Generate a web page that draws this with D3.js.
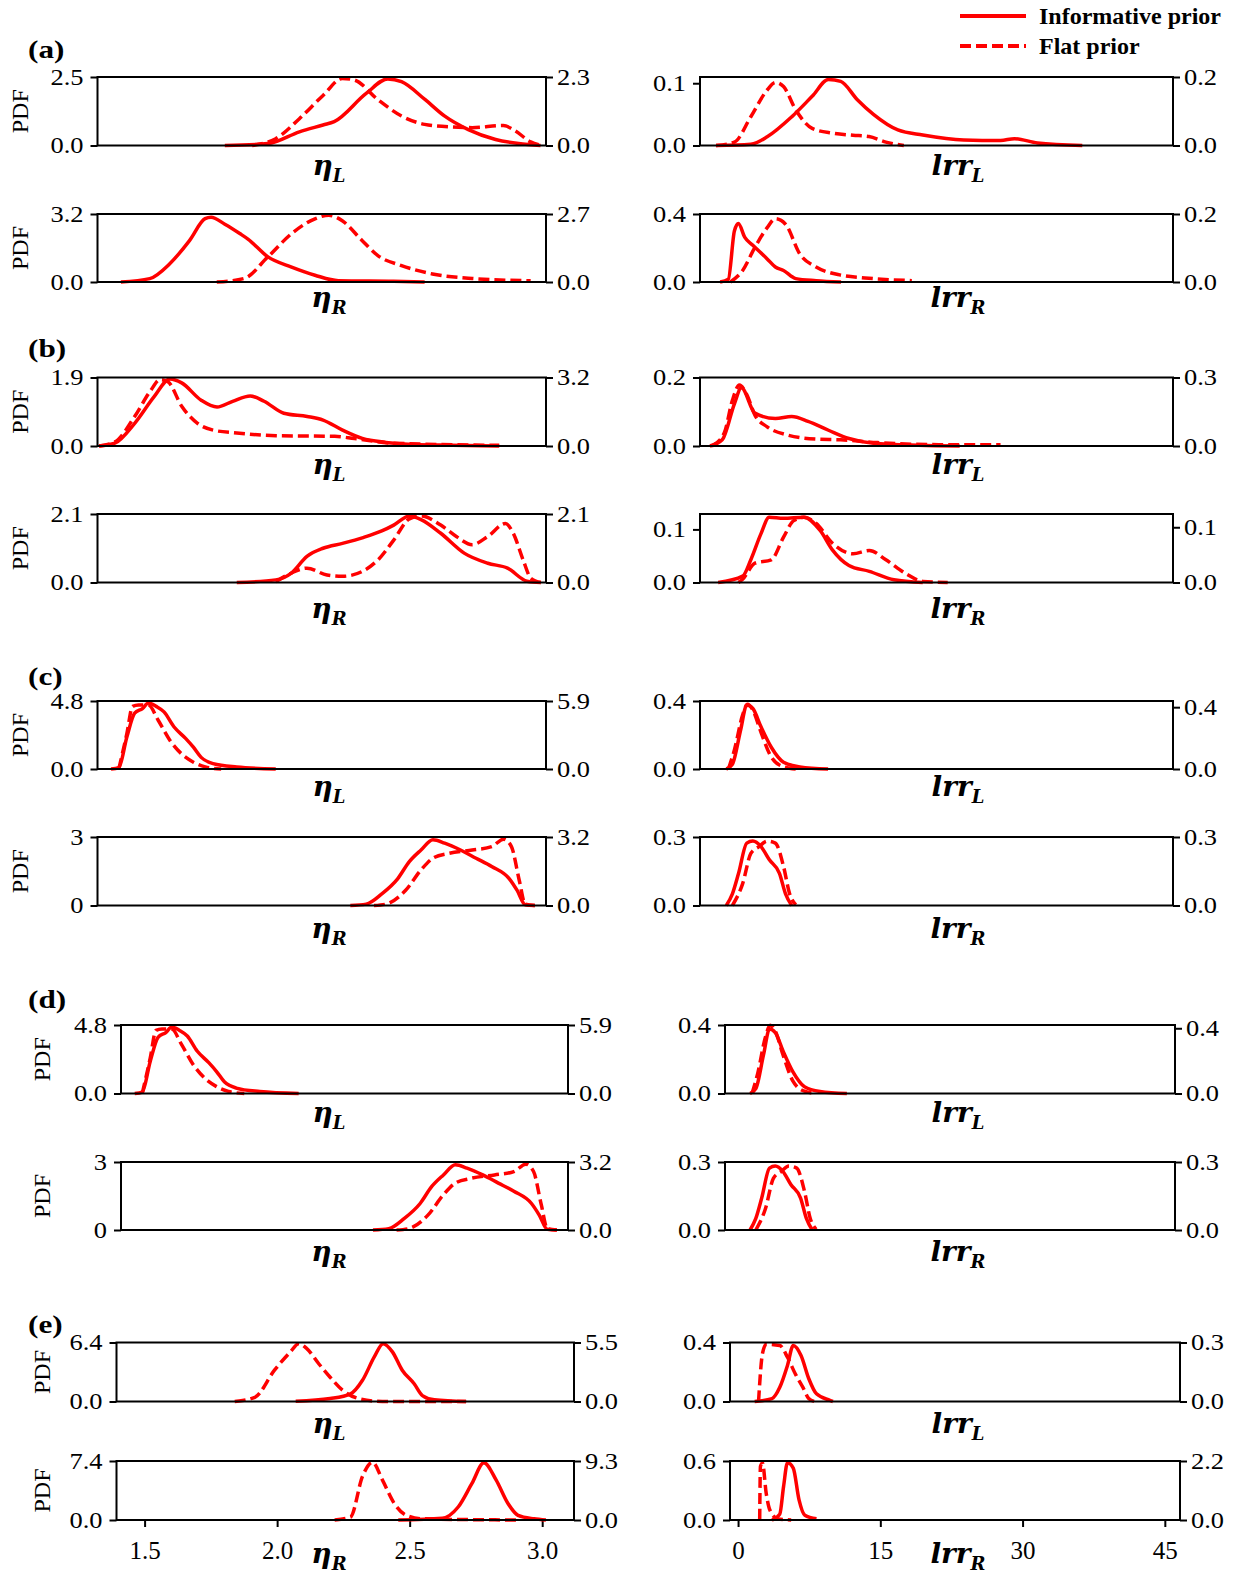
<!DOCTYPE html>
<html>
<head>
<meta charset="utf-8">
<script src="https://cdn.jsdelivr.net/npm/d3@7"></script>
<style>
  body { margin: 0; background: #fff; }
  text { font-family: "Liberation Serif", "Times New Roman", serif; fill: #000; }
  .tag { font-size: 26px; font-weight: bold; }
  .pdf { font-size: 24px; }
  .xlab { font-family: "DejaVu Serif", serif; font-size: 28px; font-weight: bold; font-style: italic; }
  .legend { font-size: 24px; font-weight: bold; }
</style>
</head>
<body>
<div id="chart"></div>
<script>
// ---- data: [value, PDF] pairs ----
// (a)
var aEtaLInf  = [[1.884,0],[2.050,0.07],[2.171,0.5],[2.262,0.75],[2.305,0.87],[2.428,1.9],[2.511,2.43],[2.564,2.33],[2.654,1.68],[2.729,1.08],[2.821,0.58],[2.926,0.22],[3.015,0.07],[3.099,0]];
var aEtaLFlat = [[1.989,0],[2.080,0.23],[2.171,0.9],[2.262,1.68],[2.336,2.25],[2.382,2.2],[2.473,1.54],[2.564,0.99],[2.653,0.71],[2.760,0.62],[2.836,0.6],[2.956,0.67],[3.0,0.5],[3.061,0.12],[3.103,0]];
var aEtaRInf  = [[1.484,0],[1.595,0.16],[1.672,0.86],[1.748,1.95],[1.808,2.98],[1.831,3.05],[1.884,2.72],[1.943,2.27],[1.973,2.02],[2.05,1.18],[2.141,0.7],[2.231,0.32],[2.321,0.06],[2.533,0.03],[2.653,0]];
var aEtaRFlat = [[1.853,0],[1.958,0.14],[2.05,1.0],[2.141,1.92],[2.231,2.51],[2.284,2.65],[2.336,2.43],[2.412,1.65],[2.473,1.05],[2.564,0.65],[2.683,0.32],[2.836,0.14],[3.061,0.05]];
var aLrrLInf  = [[0.76,0],[4.25,0.002],[5.89,0.014],[8.35,0.046],[10.4,0.079],[12.04,0.106],[13.27,0.103],[14.91,0.074],[16.55,0.05],[19.0,0.025],[21.5,0.017],[25.6,0.009],[29.3,0.008],[30.7,0.011],[33.0,0.004],[37.5,0]];
var aLrrLFlat = [[0.76,0],[2.6,0.01],[4.25,0.084],[5.89,0.162],[6.71,0.184],[7.53,0.172],[8.76,0.104],[10.4,0.05],[12.45,0.036],[14.5,0.03],[16.1,0.026],[17.8,0.01],[19.6,0]];
var aLrrRInf  = [[1.17,0],[1.99,0.016],[2.6,0.3],[3.0,0.344],[3.63,0.264],[4.45,0.216],[5.89,0.136],[6.71,0.088],[7.53,0.068],[8.76,0.02],[10.8,0.008],[13.3,0]];
var aLrrRFlat = [[2.2,0],[3.43,0.034],[4.66,0.102],[5.89,0.16],[6.71,0.186],[7.73,0.17],[9.17,0.082],[10.8,0.044],[13.3,0.02],[15.7,0.012],[20.4,0.004]];
// (b)
var bEtaLInf  = [[1.40,0],[1.461,0.08],[1.537,0.63],[1.612,1.37],[1.673,1.86],[1.718,1.75],[1.793,1.27],[1.854,1.08],[1.914,1.24],[1.982,1.39],[2.035,1.24],[2.111,0.91],[2.201,0.82],[2.262,0.72],[2.337,0.44],[2.413,0.21],[2.504,0.1],[2.609,0.04],[2.76,0.02],[2.94,0]];
var bEtaLFlat = [[1.40,0],[1.461,0.19],[1.537,1.38],[1.597,2.56],[1.635,3.1],[1.665,3.0],[1.718,1.86],[1.779,1.06],[1.839,0.74],[1.93,0.61],[2.081,0.48],[2.307,0.45],[2.383,0.35],[2.534,0.13],[2.94,0.03]];
var bEtaRInf  = [[1.93,0],[2.08,0.08],[2.14,0.29],[2.2,0.8],[2.262,1.05],[2.337,1.2],[2.413,1.37],[2.488,1.58],[2.534,1.76],[2.594,2.04],[2.639,1.93],[2.715,1.51],[2.805,0.9],[2.896,0.59],[2.972,0.44],[3.047,0.04],[3.1,0]];
var bEtaRFlat = [[2.08,0.02],[2.14,0.29],[2.2,0.44],[2.277,0.23],[2.337,0.19],[2.413,0.34],[2.473,0.69],[2.534,1.3],[2.594,1.95],[2.639,2.04],[2.715,1.76],[2.775,1.41],[2.836,1.16],[2.896,1.41],[2.964,1.81],[2.994,1.51],[3.032,0.69],[3.062,0.13],[3.1,0]];
var bLrrLInf  = [[0.15,0],[1.38,0.018],[2.61,0.124],[3.3,0.17],[4.66,0.096],[6.71,0.08],[8.35,0.086],[9.99,0.072],[12.04,0.046],[14.09,0.022],[16.55,0.008],[21.06,0.002],[25.2,0]];
var bLrrLFlat = [[0.35,0],[1.58,0.057],[2.4,0.2],[3.1,0.267],[3.84,0.225],[4.66,0.135],[5.89,0.084],[7.94,0.048],[10.8,0.03],[13.27,0.027],[16.96,0.015],[23.1,0.006],[29.3,0.006]];
var bLrrRInf  = [[0.97,0],[3.43,0.012],[4.25,0.043],[5.27,0.092],[6.09,0.123],[7.53,0.121],[9.58,0.123],[11.2,0.098],[12.45,0.061],[14.09,0.032],[16.14,0.021],[18.6,0.005],[21.5,0]];
var bLrrRFlat = [[3.0,0],[3.43,0.006],[4.66,0.035],[6.3,0.041],[7.53,0.082],[8.55,0.112],[9.58,0.118],[10.8,0.107],[12.45,0.071],[14.5,0.052],[16.14,0.058],[17.8,0.041],[19.8,0.016],[21.5,0.002],[24,0]];
// (c)
var cEtaLInf  = [[1.446,0],[1.476,0.1],[1.507,2.26],[1.537,3.94],[1.567,4.27],[1.59,4.66],[1.62,4.42],[1.65,4.03],[1.688,2.98],[1.733,2.16],[1.763,1.54],[1.793,0.82],[1.839,0.38],[1.93,0.14],[2.08,0]];
var cEtaLFlat = [[1.476,0],[1.507,3.07],[1.529,5.43],[1.552,5.55],[1.59,5.55],[1.627,4.25],[1.673,2.48],[1.718,1.3],[1.763,0.59],[1.809,0.18],[1.87,0]];
var cEtaRInf  = [[2.367,0],[2.428,0.06],[2.488,0.51],[2.549,1.17],[2.594,1.92],[2.639,2.43],[2.685,2.88],[2.73,2.73],[2.791,2.43],[2.851,2.07],[2.911,1.71],[2.979,1.17],[3.009,0.66],[3.04,0.03],[3.077,0]];
var cEtaRFlat = [[2.458,0],[2.503,0.06],[2.579,0.7],[2.639,1.66],[2.685,2.21],[2.745,2.43],[2.836,2.59],[2.911,2.75],[2.957,3.1],[2.987,2.75],[3.017,1.18],[3.04,0.06],[3.077,0]];
var cLrrLInf  = [[1.79,0],[2.4,0.028],[3.22,0.228],[3.84,0.376],[4.45,0.356],[5.27,0.248],[6.3,0.128],[7.53,0.04],[9.17,0.012],[12.0,0]];
var cLrrLFlat = [[2.0,0],[2.6,0.123],[3.43,0.35],[3.92,0.419],[4.45,0.382],[5.27,0.237],[6.3,0.077],[7.53,0.014],[8.76,0]];
var cLrrRInf  = [[1.79,0],[2.4,0.051],[3.02,0.141],[3.84,0.273],[4.45,0.282],[5.27,0.258],[6.09,0.201],[7.12,0.141],[7.73,0.051],[8.35,0]];
var cLrrRFlat = [[2.4,0],[3.43,0.096],[4.25,0.228],[5.07,0.258],[5.89,0.282],[6.71,0.273],[7.53,0.171],[8.14,0.051],[8.76,0.003]];
// (d)
var dEtaLInf  = [[1.447,0],[1.476,0.1],[1.507,2.26],[1.537,3.94],[1.567,4.27],[1.59,4.66],[1.62,4.42],[1.65,4.03],[1.688,2.98],[1.733,2.16],[1.763,1.54],[1.793,0.82],[1.839,0.38],[1.93,0.14],[2.08,0]];
var dEtaLFlat = [[1.476,0],[1.507,3.07],[1.529,5.43],[1.552,5.55],[1.59,5.55],[1.627,4.25],[1.673,2.48],[1.718,1.3],[1.763,0.59],[1.809,0.18],[1.87,0]];
var dEtaRInf  = [[2.367,0],[2.428,0.06],[2.488,0.51],[2.549,1.17],[2.594,1.92],[2.639,2.43],[2.685,2.88],[2.73,2.73],[2.791,2.43],[2.851,2.07],[2.911,1.71],[2.979,1.17],[3.009,0.66],[3.04,0.03],[3.077,0]];
var dEtaRFlat = [[2.458,0],[2.503,0.06],[2.579,0.7],[2.639,1.66],[2.685,2.21],[2.745,2.43],[2.836,2.59],[2.911,2.75],[2.957,3.1],[2.987,2.75],[3.017,1.18],[3.04,0.06],[3.077,0]];
var dLrrLInf  = [[1.79,0],[2.4,0.028],[3.22,0.228],[3.84,0.376],[4.45,0.356],[5.27,0.248],[6.3,0.128],[7.53,0.04],[9.17,0.012],[12.0,0]];
var dLrrLFlat = [[2.0,0],[2.6,0.123],[3.43,0.35],[3.92,0.419],[4.45,0.382],[5.27,0.237],[6.3,0.077],[7.53,0.014],[8.76,0]];
var dLrrRInf  = [[1.79,0],[2.4,0.051],[3.02,0.141],[3.84,0.273],[4.45,0.282],[5.27,0.258],[6.09,0.201],[7.12,0.141],[7.73,0.051],[8.35,0]];
var dLrrRFlat = [[2.4,0],[3.43,0.096],[4.25,0.228],[5.07,0.258],[5.89,0.282],[6.71,0.273],[7.53,0.171],[8.14,0.051],[8.76,0.003]];
// (e)
var eEtaLInf  = [[2.07,0.03],[2.2,0.32],[2.277,0.83],[2.322,2.3],[2.367,4.86],[2.4,6.27],[2.435,5.38],[2.472,3.39],[2.517,1.92],[2.548,0.64],[2.593,0.19],[2.713,0]];
var eEtaLFlat = [[1.84,0],[1.916,0.39],[1.99,2.92],[2.05,4.62],[2.081,5.39],[2.111,4.95],[2.157,3.52],[2.2,2.26],[2.247,1.05],[2.307,0.28],[2.397,0],[2.713,0]];
var eEtaRInf  = [[2.457,0],[2.623,0.22],[2.683,1.63],[2.735,4.59],[2.78,7.18],[2.826,5.03],[2.871,2.07],[2.909,0.59],[2.969,0.15],[3.014,0]];
var eEtaRFlat = [[2.217,0],[2.277,0.47],[2.322,6.88],[2.36,9.11],[2.397,6.32],[2.442,2.6],[2.487,0.74],[2.547,0.19],[2.909,0]];
var eLrrLInf  = [[1.75,0],[3.58,0.02],[4.4,0.096],[5.21,0.244],[5.82,0.38],[6.64,0.312],[7.45,0.156],[8.27,0.052],[9.69,0.008],[10,0]];
var eLrrLFlat = [[2.16,0],[2.57,0.243],[2.97,0.291],[4.4,0.285],[5.21,0.225],[6.03,0.141],[6.84,0.072],[7.45,0.015],[8.06,0]];
var eLrrRInf  = [[3.58,0],[4.4,0.06],[4.8,0.342],[5.21,0.582],[5.82,0.528],[6.43,0.204],[7.04,0.048],[8.27,0.012]];
var eLrrRFlat = [[2.28,0],[2.36,2.0],[2.57,2.13],[2.97,0.99],[3.38,0.35],[4.2,0.04],[5.6,0]];

// y axes, panel order etaL, etaR, lrrL, lrrR: [left (informative), right (flat)]
var yTopA = [[2.5,2.3],[3.2,2.7],[0.11,0.2],[0.4,0.2]],   yTickA = [["2.5","2.3"],["3.2","2.7"],["0.1","0.2"],["0.4","0.2"]];
var yTopB = [[1.9,3.2],[2.1,2.1],[0.2,0.3],[0.129,0.124]], yTickB = [["1.9","3.2"],["2.1","2.1"],["0.2","0.3"],["0.1","0.1"]];
var yTopC = [[4.8,5.9],[3,3.2],[0.4,0.44],[0.3,0.3]],      yTickC = [["4.8","5.9"],["3","3.2"],["0.4","0.4"],["0.3","0.3"]];
var yTopD = [[4.8,5.9],[3,3.2],[0.4,0.42],[0.3,0.3]],      yTickD = [["4.8","5.9"],["3","3.2"],["0.4","0.4"],["0.3","0.3"]];
var yTopE = [[6.4,5.5],[7.4,9.3],[0.4,0.3],[0.6,2.2]],     yTickE = [["6.4","5.5"],["7.4","9.3"],["0.4","0.3"],["0.6","2.2"]];

var etaTicks = [1.5, 2.0, 2.5, 3.0],
    lrrTicks = [0, 15, 30, 45];
var etaDomain = [1.394, 3.12],
    lrrDomain = [-0.85, 46.6];

var groups = [
  { tag: "(a)", curves: [[aEtaLInf, aEtaLFlat], [aEtaRInf, aEtaRFlat], [aLrrLInf, aLrrLFlat], [aLrrRInf, aLrrRFlat]], yTop: yTopA, yTick: yTickA },
  { tag: "(b)", curves: [[bEtaLInf, bEtaLFlat], [bEtaRInf, bEtaRFlat], [bLrrLInf, bLrrLFlat], [bLrrRInf, bLrrRFlat]], yTop: yTopB, yTick: yTickB },
  { tag: "(c)", curves: [[cEtaLInf, cEtaLFlat], [cEtaRInf, cEtaRFlat], [cLrrLInf, cLrrLFlat], [cLrrRInf, cLrrRFlat]], yTop: yTopC, yTick: yTickC },
  { tag: "(d)", curves: [[dEtaLInf, dEtaLFlat], [dEtaRInf, dEtaRFlat], [dLrrLInf, dLrrLFlat], [dLrrRInf, dLrrRFlat]], yTop: yTopD, yTick: yTickD },
  { tag: "(e)", curves: [[eEtaLInf, eEtaLFlat], [eEtaRInf, eEtaRFlat], [eLrrLInf, eLrrLFlat], [eLrrRInf, eLrrRFlat]], yTop: yTopE, yTick: yTickE }
];

// ---- layout (pixel boxes of each group's subplots) ----
var layout = [
  { rows: [[77, 145.5], [214, 282]],        eta: [97.5, 546], lrr: [700, 1173], tagY: 58,   labY: [169, 301],   pdfX: 20 },
  { rows: [[377.5, 446], [514, 582.5]],     eta: [97.5, 546], lrr: [700, 1173], tagY: 357,  labY: [468, 612],   pdfX: 20 },
  { rows: [[701, 769], [837, 905.5]],       eta: [97.5, 546], lrr: [700, 1173], tagY: 685,  labY: [790, 932],   pdfX: 20 },
  { rows: [[1025, 1093.5], [1162, 1230]],   eta: [121, 568],  lrr: [725, 1175], tagY: 1008, labY: [1116, 1255], pdfX: 42 },
  { rows: [[1342.5, 1401.5], [1461, 1520]], eta: [116.5, 574], lrr: [730, 1180], tagY: 1333, labY: [1427, 1557], pdfX: 42 }
];

var W = 1233, H = 1574, red = "#ff0000";
var stretch = 1.15;   // the figure's lettering is a bit wider than Liberation Serif

var svg = d3.select("#chart").append("svg")
    .attr("width", W)
    .attr("height", H);

function styleAxis(g, size, k) {
  g.select(".domain").remove();
  g.selectAll(".tick line").attr("stroke", "#000").attr("stroke-width", 2);
  g.selectAll(".tick text")
    .attr("fill", "#000")
    .style("font-family", '"Liberation Serif", serif')
    .style("font-size", size + "px")
    .each(function () {
      if (k === 1) return;
      var t = d3.select(this);
      t.attr("x", +t.attr("x") / k).attr("transform", "scale(" + k + ",1)");
    });
}

function zeroLabel(lab) { return lab.indexOf(".") < 0 ? "0" : "0.0"; }

groups.forEach(function (g, gi) {
  var L = layout[gi];

  svg.append("text").attr("class", "tag")
    .attr("transform", "translate(28," + L.tagY + ") scale(1.2,1)")
    .text(g.tag);

  for (var p = 0; p < 4; p++) {
    var row = p % 2, isEta = p < 2;
    var xr = isEta ? L.eta : L.lrr,
        yr = L.rows[row];

    var x = d3.scaleLinear().domain(isEta ? etaDomain : lrrDomain).range(xr);
    var yL = d3.scaleLinear().domain([0, g.yTop[p][0]]).range([yr[1], yr[0]]);
    var yR = d3.scaleLinear().domain([0, g.yTop[p][1]]).range([yr[1], yr[0]]);

    var labL = g.yTick[p][0], labR = g.yTick[p][1];

    // left axis (informative prior)
    svg.append("g")
      .attr("transform", "translate(" + xr[0] + ",0)")
      .call(d3.axisLeft(yL).tickValues([0, +labL]).tickSize(7).tickPadding(7)
        .tickFormat(function (v) { return v === 0 ? zeroLabel(labL) : labL; }))
      .call(styleAxis, 23, stretch);

    // right axis (flat prior)
    svg.append("g")
      .attr("transform", "translate(" + xr[1] + ",0)")
      .call(d3.axisRight(yR).tickValues([0, +labR]).tickSize(7).tickPadding(4)
        .tickFormat(function (v) { return v === 0 ? zeroLabel(labR) : labR; }))
      .call(styleAxis, 23, stretch);

    // shared x ticks only under the last row
    if (gi === groups.length - 1 && row === 1) {
      svg.append("g")
        .attr("transform", "translate(0," + yr[1] + ")")
        .call(d3.axisBottom(x).tickValues(isEta ? etaTicks : lrrTicks).tickSize(7).tickPadding(14)
          .tickFormat(isEta ? d3.format(".1f") : d3.format("d")))
        .call(styleAxis, 25, 1);
    }

    var lineL = d3.line().curve(d3.curveMonotoneX)
      .x(function (d) { return x(d[0]); })
      .y(function (d) { return yL(d[1]); });
    var lineR = d3.line().curve(d3.curveMonotoneX)
      .x(function (d) { return x(d[0]); })
      .y(function (d) { return yR(d[1]); });

    svg.append("path").datum(g.curves[p][1])
      .attr("d", lineR)
      .attr("fill", "none").attr("stroke", red).attr("stroke-width", 3.5)
      .attr("stroke-dasharray", "11,5");
    svg.append("path").datum(g.curves[p][0])
      .attr("d", lineL)
      .attr("fill", "none").attr("stroke", red).attr("stroke-width", 3.5);

    // frame
    svg.append("rect")
      .attr("x", xr[0]).attr("y", yr[0])
      .attr("width", xr[1] - xr[0]).attr("height", yr[1] - yr[0])
      .attr("fill", "none").attr("stroke", "#000").attr("stroke-width", 2);

    if (isEta) {
      svg.append("text").attr("class", "pdf")
        .attr("transform", "translate(" + L.pdfX + "," + ((yr[0] + yr[1]) / 2) + ") rotate(-90)")
        .attr("text-anchor", "middle").attr("dy", "0.35em")
        .text("PDF");
    }

    // x label with subscript
    var xl = svg.append("text").attr("class", "xlab")
      .attr("x", isEta ? 329 : 958).attr("y", L.labY[row] + 6)
      .attr("text-anchor", "middle");
    xl.append("tspan").text(isEta ? "\u03b7" : "lrr");
    xl.append("tspan").attr("dy", 7).style("font-size", "18px").text(row === 0 ? "L" : "R");
  }
});

// legend
var legend = svg.append("g").attr("class", "legendbox");
[["Informative prior", null, 16], ["Flat prior", "11,5", 46]].forEach(function (d) {
  legend.append("line")
    .attr("x1", 960).attr("x2", 1026).attr("y1", d[2]).attr("y2", d[2])
    .attr("stroke", red).attr("stroke-width", 4)
    .attr("stroke-dasharray", d[1]);
  legend.append("text").attr("class", "legend")
    .attr("x", 1039).attr("y", d[2] + 8)
    .text(d[0]);
});
</script>
</body>
</html>
